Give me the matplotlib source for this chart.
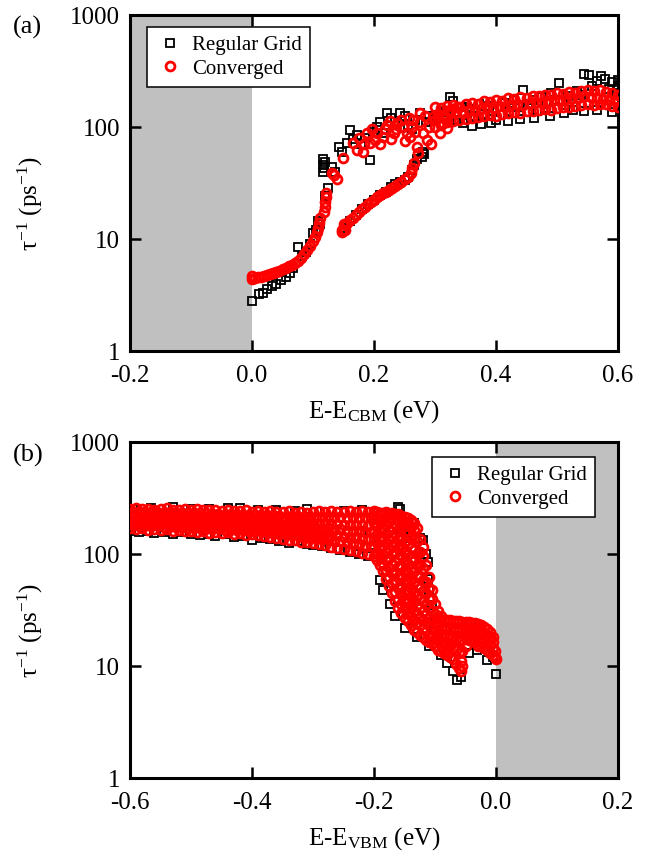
import matplotlib
matplotlib.use("Agg")
import matplotlib.pyplot as plt
from matplotlib.ticker import NullLocator

plt.rcParams['font.family'] = 'serif'
plt.rcParams['font.serif'] = ['Liberation Serif', 'DejaVu Serif']
plt.rcParams['mathtext.fontset'] = 'custom'
plt.rcParams['mathtext.rm'] = 'Liberation Serif'
plt.rcParams['mathtext.it'] = 'Liberation Serif:italic'
plt.rcParams['axes.unicode_minus'] = False

# ---------------- (a) conduction band: scattering rate vs energy ----------------
a_grid_low = [(0.000, 2.8), (0.012, 3.2), (0.018, 3.3), (0.025, 3.6), (0.032, 3.8),
              (0.040, 4.0), (0.048, 4.3), (0.055, 4.6), (0.062, 5.0), (0.068, 5.5),
              (0.075, 8.5), (0.082, 7.0), (0.088, 7.6), (0.095, 9.0), (0.100, 11.2),
              (0.105, 12.0), (0.108, 14.5), (0.112, 13.5), (0.120, 24.0), (0.125, 28.5)]
a_grid_jump = [(0.116, 40), (0.116, 46), (0.117, 52), (0.118, 43), (0.119, 49),
               (0.131, 44), (0.136, 40), (0.142, 66), (0.148, 60), (0.155, 72),
               (0.160, 94), (0.166, 78), (0.172, 85), (0.178, 70), (0.185, 80),
               (0.193, 51), (0.198, 90), (0.205, 100), (0.210, 110), (0.215, 88),
               (0.221, 133), (0.228, 120), (0.235, 110), (0.243, 133), (0.250, 125),
               (0.256, 105), (0.262, 95), (0.268, 115), (0.275, 133), (0.278, 54),
               (0.280, 60), (0.282, 57), (0.285, 110), (0.290, 125), (0.296, 118)]
a_grid_branch = [(0.150, 12.5), (0.160, 14.5), (0.170, 16.5), (0.180, 18.5), (0.190, 20.5),
                 (0.200, 22.5), (0.210, 24.5), (0.220, 26.5), (0.228, 29.0), (0.235, 31.0),
                 (0.242, 32.0), (0.250, 33.5), (0.256, 36.0), (0.262, 41.0), (0.266, 46.0),
                 (0.270, 52.0)]
a_grid_band = [(0.302, 128), (0.310, 135), (0.318, 140), (0.325, 185), (0.330, 170),
               (0.336, 115), (0.342, 150), (0.346, 109), (0.352, 150), (0.358, 145),
               (0.365, 125), (0.372, 160), (0.380, 130), (0.388, 155), (0.395, 140),
               (0.400, 115), (0.408, 150), (0.415, 165), (0.422, 140), (0.430, 175),
               (0.438, 150), (0.445, 213), (0.452, 160), (0.460, 175), (0.468, 140),
               (0.475, 185), (0.482, 160), (0.490, 200), (0.497, 175), (0.503, 245),
               (0.510, 170), (0.518, 190), (0.526, 141), (0.533, 210), (0.540, 195),
               (0.545, 300), (0.553, 290), (0.558, 230), (0.565, 260), (0.572, 285),
               (0.578, 270), (0.585, 220), (0.590, 250), (0.596, 200), (0.600, 265),
               (0.600, 230), (0.360, 102), (0.375, 106), (0.392, 108), (0.420, 112),
               (0.440, 118), (0.462, 120), (0.488, 126), (0.512, 132), (0.545, 140),
               (0.565, 142), (0.590, 136)]

a_conv_low = [(0.000, 4.4), (0.000, 4.7), (0.005, 4.5), (0.010, 4.6), (0.015, 4.6),
              (0.020, 4.7), (0.025, 4.8), (0.030, 4.9), (0.035, 5.0), (0.040, 5.1),
              (0.045, 5.2), (0.050, 5.4), (0.055, 5.5), (0.060, 5.7), (0.065, 5.9),
              (0.070, 6.1), (0.075, 6.4), (0.080, 6.8), (0.085, 7.3), (0.090, 7.9),
              (0.095, 8.7), (0.100, 9.6), (0.103, 10.5), (0.106, 11.5), (0.109, 12.5),
              (0.110, 14.0), (0.112, 15.5), (0.118, 17.5), (0.119, 19.5), (0.120, 21.5),
              (0.121, 23.5), (0.121, 25.5), (0.131, 39.0), (0.134, 37.0), (0.139, 34.0),
              (0.149, 53.0)]
a_conv_upper = [(0.166, 72), (0.172, 62), (0.182, 60), (0.188, 88), (0.193, 72),
                (0.202, 76), (0.215, 81), (0.221, 104), (0.232, 88), (0.238, 108),
                (0.248, 100), (0.254, 88), (0.264, 115), (0.259, 81), (0.270, 66),
                (0.272, 58), (0.275, 133), (0.280, 88), (0.287, 76), (0.297, 122),
                (0.308, 88), (0.313, 108), (0.325, 141), (0.336, 150), (0.346, 133),
                (0.176, 80), (0.184, 70), (0.196, 95), (0.205, 88), (0.210, 70),
                (0.218, 95), (0.226, 112), (0.228, 78), (0.236, 95), (0.244, 115),
                (0.250, 75), (0.258, 120), (0.262, 100), (0.268, 90), (0.276, 110),
                (0.284, 125), (0.290, 100), (0.294, 70), (0.300, 115), (0.305, 130),
                (0.318, 120), (0.320, 98)]
a_conv_branch = [(0.148, 11.5), (0.148, 12.0), (0.150, 13.5), (0.152, 12.0), (0.152, 13.2),
                 (0.155, 13.8), (0.160, 14.8), (0.165, 15.5), (0.170, 16.5), (0.175, 17.5),
                 (0.180, 18.5), (0.185, 19.5), (0.190, 20.5), (0.195, 21.5), (0.200, 22.5),
                 (0.205, 23.5), (0.210, 24.5), (0.215, 25.5), (0.220, 26.5), (0.225, 27.5),
                 (0.230, 28.5), (0.235, 29.5), (0.240, 31.0), (0.245, 32.5), (0.250, 34.0),
                 (0.255, 36.0), (0.260, 39.0), (0.263, 43.0), (0.266, 48.0)]
a_band_x_even = [0.30, 0.31, 0.32, 0.33, 0.34, 0.35, 0.36, 0.37, 0.38, 0.39, 0.40,
                 0.41, 0.42, 0.43, 0.44, 0.45, 0.46, 0.47, 0.48, 0.49, 0.50,
                 0.51, 0.52, 0.53, 0.54, 0.55, 0.56, 0.57, 0.58, 0.59, 0.60]
a_band_x_odd = [0.305, 0.315, 0.325, 0.335, 0.345, 0.355, 0.365, 0.375, 0.385, 0.395,
                0.405, 0.415, 0.425, 0.435, 0.445, 0.455, 0.465, 0.475, 0.485, 0.495,
                0.505, 0.515, 0.525, 0.535, 0.545, 0.555, 0.565, 0.575, 0.585, 0.595]
a_conv_band_top = [150, 148, 155, 158, 152, 160, 165, 162, 170, 168, 175,
                   172, 180, 178, 185, 182, 190, 188, 195, 192, 200,
                   198, 205, 202, 210, 215, 208, 212, 205, 200, 195]
a_conv_band_mid = [120, 128, 132, 135, 138, 142, 140, 146, 150, 148,
                   155, 152, 158, 160, 157, 165, 168, 164, 172, 175,
                   170, 178, 182, 180, 188, 185, 182, 178, 175, 170]
a_conv_band_low = [100, 105, 110, 112, 115, 118, 120, 122, 125, 128, 126,
                   130, 132, 135, 133, 138, 140, 142, 145, 143, 148,
                   150, 152, 155, 158, 160, 158, 162, 160, 155, 150]

# ---------------- (b) valence band ----------------
b_band_x_even = [-0.60, -0.59, -0.58, -0.57, -0.56, -0.55, -0.54, -0.53, -0.52, -0.51,
                 -0.50, -0.49, -0.48, -0.47, -0.46, -0.45, -0.44, -0.43, -0.42, -0.41,
                 -0.40, -0.39, -0.38, -0.37, -0.36, -0.35, -0.34, -0.33, -0.32, -0.31,
                 -0.30, -0.29, -0.28, -0.27, -0.26, -0.25, -0.24, -0.23, -0.22, -0.21]
b_band_x_odd = [-0.595, -0.585, -0.575, -0.565, -0.555, -0.545, -0.535, -0.525, -0.515, -0.505,
                -0.495, -0.485, -0.475, -0.465, -0.455, -0.445, -0.435, -0.425, -0.415, -0.405,
                -0.395, -0.385, -0.375, -0.365, -0.355, -0.345, -0.335, -0.325, -0.315, -0.305,
                -0.295, -0.285, -0.275, -0.265, -0.255, -0.245, -0.235, -0.225, -0.215, -0.205]
b_conv_row1 = [252, 255, 250, 254, 248, 251, 256, 249, 247, 252,
               248, 250, 245, 249, 246, 243, 248, 244, 240, 245,
               238, 242, 236, 240, 237, 235, 240, 234, 238, 233,
               236, 240, 235, 242, 238, 236, 241, 237, 243, 238]
b_conv_row2 = [238, 237, 238, 236, 235, 234, 238, 232, 232, 233,
               231, 231, 230, 229, 229, 225, 229, 225, 224, 224,
               221, 222, 218, 221, 217, 215, 217, 213, 216, 211,
               212, 213, 212, 213, 212, 209, 212, 208, 212, 208]
b_conv_row3 = [224, 220, 226, 219, 222, 217, 221, 215, 218, 214,
               215, 212, 216, 210, 213, 208, 211, 206, 209, 204,
               205, 203, 200, 202, 198, 196, 194, 192, 195, 190,
               189, 187, 190, 184, 186, 182, 183, 180, 181, 178]
b_conv_row4 = [210, 206, 212, 204, 208, 202, 206, 200, 203, 199,
               200, 197, 200, 195, 198, 193, 196, 191, 194, 189,
               190, 187, 185, 185, 181, 179, 177, 177, 176, 172,
               172, 168, 171, 165, 167, 162, 161, 160, 158, 156]
b_conv_row5 = [196, 192, 198, 190, 194, 188, 191, 186, 189, 184,
               186, 182, 185, 180, 183, 178, 181, 176, 179, 174,
               175, 172, 170, 168, 165, 163, 160, 162, 157, 154,
               155, 150, 152, 146, 148, 143, 140, 141, 136, 134]
b_conv_row6 = [183, 179, 185, 177, 181, 175, 179, 173, 176, 171,
               173, 169, 172, 167, 170, 165, 168, 163, 166, 161,
               162, 159, 157, 155, 152, 150, 147, 147, 142, 140,
               140, 136, 136, 131, 131, 127, 124, 123, 119, 117]
b_conv_row7 = [170, 166, 172, 165, 168, 163, 167, 161, 164, 159,
               161, 157, 160, 155, 158, 153, 156, 151, 154, 149,
               150, 147, 145, 143, 140, 137, 134, 132, 128, 127,
               125, 122, 120, 116, 114, 111, 108, 106, 103, 100]
b_conv_drop = [(-0.200, [95, 115, 135, 160, 190, 220, 240]),
               (-0.195, [88, 105, 125, 150, 178, 210, 238]),
               (-0.190, [80, 95, 115, 140, 165, 195, 230]),
               (-0.185, [70, 82, 98, 118, 140, 168, 200, 232]),
               (-0.180, [60, 72, 88, 105, 125, 150, 180, 215, 235]),
               (-0.175, [52, 62, 75, 92, 110, 132, 160, 195, 228]),
               (-0.170, [45, 55, 68, 82, 100, 120, 145, 175, 210, 232]),
               (-0.165, [38, 46, 56, 68, 84, 102, 124, 150, 185, 225]),
               (-0.160, [33, 40, 50, 62, 76, 92, 112, 135, 165, 200, 228]),
               (-0.155, [30, 36, 44, 53, 65, 80, 98, 120, 145, 180, 220]),
               (-0.150, [27, 33, 40, 48, 58, 72, 88, 108, 130, 160, 195, 215]),
               (-0.145, [25, 30, 37, 45, 55, 67, 82, 100, 124, 150, 185, 208]),
               (-0.140, [23, 28, 34, 41, 50, 60, 74, 90, 112, 140, 175, 200]),
               (-0.135, [21, 26, 31, 38, 46, 56, 70, 86, 108, 135, 165, 190]),
               (-0.130, [20, 24, 29, 35, 42, 52, 64, 80, 100, 130, 170]),
               (-0.125, [19, 23, 27, 33, 40, 50, 62, 80, 104, 135]),
               (-0.120, [18, 22, 26, 31, 38, 47, 58, 75, 95, 115]),
               (-0.115, [17, 20.5, 24.5, 29, 36, 45, 56, 80]),
               (-0.110, [16.5, 19, 23, 27, 33, 40, 50, 62]),
               (-0.105, [16, 18.5, 22, 26, 31, 40, 48]),
               (-0.100, [15, 17.5, 20.5, 24, 29, 36]),
               (-0.095, [14, 17, 20, 23, 27, 31]),
               (-0.090, [13.5, 16, 19, 22, 26, 28])]
b_conv_tail = [(-0.085, [13, 16, 19, 22, 26]),
               (-0.080, [12.5, 15.5, 18.5, 22, 26]),
               (-0.075, [12, 15, 18, 21.5, 25.5]),
               (-0.070, [11.5, 14.5, 18, 21.5, 25]),
               (-0.065, [10.5, 14, 17.5, 21, 25]),
               (-0.060, [9.5, 13, 17, 21, 25]),
               (-0.057, [9, 11]),
               (-0.055, [10, 13.5, 17, 21, 24.5]),
               (-0.050, [15, 18, 21, 24.5]),
               (-0.045, [17, 19.5, 22, 24.5]),
               (-0.040, [17, 19.5, 21.5, 24]),
               (-0.035, [16.5, 19, 21.5, 24]),
               (-0.030, [15, 17.5, 20, 23.5]),
               (-0.025, [15, 17.5, 20, 23]),
               (-0.020, [14.5, 17, 19.5, 22.5]),
               (-0.015, [14, 16.5, 19, 21.5]),
               (-0.010, [13, 15.5, 18, 20]),
               (-0.005, [12.5, 14.5, 16.5, 18]),
               (-0.002, [12, 13.5]),
               (0.000, [11.5])]

b_grid_band = [(-0.600, 160), (-0.585, 156), (-0.570, 162), (-0.560, 155), (-0.545, 158),
               (-0.530, 152), (-0.515, 156), (-0.500, 150), (-0.485, 148), (-0.470, 152),
               (-0.460, 146), (-0.445, 150), (-0.430, 142), (-0.415, 146), (-0.400, 133),
               (-0.385, 140), (-0.370, 136), (-0.355, 130), (-0.340, 126), (-0.325, 130),
               (-0.310, 124), (-0.300, 120), (-0.285, 118), (-0.270, 112), (-0.255, 108),
               (-0.240, 104), (-0.225, 100), (-0.210, 95),
               (-0.595, 250), (-0.565, 256), (-0.530, 262), (-0.500, 252), (-0.470, 250),
               (-0.440, 258), (-0.420, 255), (-0.390, 248), (-0.360, 245), (-0.330, 240),
               (-0.310, 250), (-0.280, 238), (-0.250, 240), (-0.220, 245),
               (-0.580, 200), (-0.520, 195), (-0.460, 190), (-0.400, 185), (-0.340, 175),
               (-0.280, 165), (-0.220, 160)]
b_grid_drop = [(-0.200, 120), (-0.195, 100), (-0.190, 58), (-0.185, 48), (-0.180, 70),
               (-0.174, 36), (-0.165, 28), (-0.160, 265), (-0.157, 250), (-0.158, 172),
               (-0.155, 162), (-0.152, 168), (-0.150, 158), (-0.150, 22), (-0.145, 140),
               (-0.135, 190), (-0.130, 18), (-0.125, 140), (-0.120, 133), (-0.115, 100),
               (-0.111, 85), (-0.112, 60), (-0.110, 48), (-0.110, 15), (-0.105, 35),
               (-0.100, 24), (-0.090, 12.5), (-0.080, 10.6), (-0.080, 22), (-0.070, 9.0),
               (-0.064, 7.5), (-0.058, 8.0), (-0.060, 22), (-0.045, 13), (-0.040, 22),
               (-0.031, 14), (-0.020, 19), (-0.015, 11.3), (-0.005, 12), (0.000, 8.4)]

y_ticks = [1, 10, 100, 1000]
y_tick_labels = ["1", "10", "100", "1000"]
a_x_ticks = [-0.2, 0.0, 0.2, 0.4, 0.6]
a_x_tick_labels = ["-0.2", "0.0", "0.2", "0.4", "0.6"]
b_x_ticks = [-0.6, -0.4, -0.2, 0.0, 0.2]
b_x_tick_labels = ["-0.6", "-0.4", "-0.2", "0.0", "0.2"]


def from_pairs(*groups):
    xs, ys = [], []
    for g in groups:
        for x, y in g:
            xs.append(x)
            ys.append(y)
    return xs, ys


def from_columns(*groups):
    xs, ys = [], []
    for g in groups:
        for x, col in g:
            for y in col:
                xs.append(x)
                ys.append(y)
    return xs, ys


def from_rows(rows):
    xs, ys = [], []
    for xrow, yrow in rows:
        xs.extend(xrow)
        ys.extend(yrow)
    return xs, ys


GREY = "#c0c0c0"
SQ = dict(linestyle="none", marker="s", ms=6.2, mfc="none", mec="black", mew=1.3)
CI = dict(linestyle="none", marker="o", ms=6.4, mfc="none", mec="#ff0000", mew=2.0)


def style(ax, xticks, xlabels, xlim):
    ax.set_yscale("log")
    ax.set_ylim(1, 1000)
    ax.set_xlim(*xlim)
    ax.set_yticks(y_ticks)
    ax.set_yticklabels(y_tick_labels)
    ax.yaxis.set_minor_locator(NullLocator())
    ax.set_xticks(xticks)
    ax.set_xticklabels(xlabels)
    ax.tick_params(which="major", direction="in", length=8, width=1.8,
                   top=True, right=True, labelsize=18, pad=7)
    ax.tick_params(axis="x", pad=10)
    for s in ax.spines.values():
        s.set_linewidth(2.2)
    ax.set_ylabel("τ$^{-1}$ (ps$^{-1}$)", fontsize=18)
    ax.yaxis.set_label_coords(-0.175, 0.44)


fig = plt.figure(figsize=(6.57, 8.63), dpi=100)
ax_a = fig.add_axes([130 / 657, 1 - 351 / 863, 488 / 657, 336 / 863])
ax_b = fig.add_axes([130 / 657, 1 - 778 / 863, 488 / 657, 336 / 863])

# panel (a)
ax_a.axvspan(-0.2, 0.0, color=GREY, lw=0, zorder=0)
gx, gy = from_pairs(a_grid_low, a_grid_jump, a_grid_branch, a_grid_band)
cx, cy = from_pairs(a_conv_low, a_conv_upper, a_conv_branch)
rx, ry = from_rows([(a_band_x_even, a_conv_band_top), (a_band_x_odd, a_conv_band_mid),
                    (a_band_x_even, a_conv_band_low)])
ax_a.plot(gx, gy, label="Regular Grid", zorder=2, **SQ)
ax_a.plot(cx + rx, cy + ry, label="Converged", zorder=3, **CI)
style(ax_a, a_x_ticks, a_x_tick_labels, (-0.2, 0.6))
ax_a.set_xlabel("E-E$_{\\mathrm{CBM}}$ (eV)", fontsize=18)
ax_a.xaxis.set_label_coords(0.5, -0.14)

# panel (b)
ax_b.axvspan(0.0, 0.2, color=GREY, lw=0, zorder=0)
gx, gy = from_pairs(b_grid_band, b_grid_drop)
bx1, by1 = from_rows([(b_band_x_even, b_conv_row1), (b_band_x_odd, b_conv_row2),
                      (b_band_x_even, b_conv_row3), (b_band_x_odd, b_conv_row4),
                      (b_band_x_even, b_conv_row5), (b_band_x_odd, b_conv_row6),
                      (b_band_x_even, b_conv_row7)])
bx2, by2 = from_columns(b_conv_drop, b_conv_tail)
ax_b.plot(gx, gy, label="Regular Grid", zorder=2, **SQ)
ax_b.plot(bx1 + bx2, by1 + by2, label="Converged", zorder=3, **CI)
style(ax_b, b_x_ticks, b_x_tick_labels, (-0.6, 0.2))
ax_b.set_xlabel("E-E$_{\\mathrm{VBM}}$ (eV)", fontsize=18)
ax_b.xaxis.set_label_coords(0.5, -0.14)

leg_kw = dict(fontsize=15, frameon=True, fancybox=False, framealpha=1,
              edgecolor="black", handlelength=1.4, handletextpad=0.35,
              labelspacing=0.2, borderpad=0.4, borderaxespad=0)
la = ax_a.legend(loc="upper left", bbox_to_anchor=(0.035, 0.964), **leg_kw)
lb = ax_b.legend(loc="upper left", bbox_to_anchor=(0.619, 0.955), **leg_kw)
for lg in (la, lb):
    lg.get_frame().set_linewidth(1.1)

fig.text(13 / 657, 1 - 27 / 863, "(a)", fontsize=19, va="center", ha="left")
fig.text(13 / 657, 1 - 455 / 863, "(b)", fontsize=19, va="center", ha="left")

fig.savefig("out.png", dpi=100)
